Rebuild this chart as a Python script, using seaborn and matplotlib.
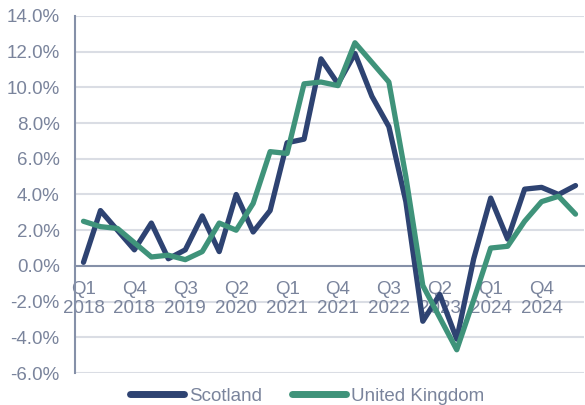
import matplotlib
matplotlib.use("Agg")
import matplotlib.pyplot as plt
import seaborn as sns
import pandas as pd
import numpy as np

quarters = [f"Q{q} {y}" for y in range(2018, 2026) for q in range(1, 5)][:30]
scotland = [0.2, 3.1, 2.0, 0.9, 2.4, 0.4, 0.9, 2.8, 0.8, 4.0,
            1.9, 3.1, 6.9, 7.1, 11.6, 10.2, 11.9, 9.5, 7.8, 3.6,
            -3.1, -1.6, -4.1, 0.4, 3.8, 1.5, 4.3, 4.4, 4.0, 4.5]
uk = [2.5, 2.2, 2.1, 1.3, 0.5, 0.6, 0.35, 0.8, 2.4, 2.0,
      3.5, 6.4, 6.3, 10.2, 10.3, 10.1, 12.5, 11.4, 10.3, 5.0,
      -1.1, -2.9, -4.7, -1.9, 1.0, 1.1, 2.5, 3.6, 3.9, 2.9]
series_names = ["Scotland", "United Kingdom"]
colors = ["#2E4372", "#3F937A"]
yticks = [-6, -4, -2, 0, 2, 4, 6, 8, 10, 12, 14]

text_color = "#7A849C"
grid_color = "#DADDE4"
spine_color = "#8590A8"
fs = 13.5

df = pd.DataFrame({
    "idx": list(range(len(quarters))) * 2,
    "value": scotland + uk,
    "series": [series_names[0]] * len(scotland) + [series_names[1]] * len(uk),
})

sns.set_style("white")
plt.rcParams["font.family"] = ["Liberation Sans", "DejaVu Sans"]

fig, ax = plt.subplots(figsize=(5.85, 4.05), dpi=100)
fig.subplots_adjust(left=75/585, right=584/585, top=1-16/405, bottom=1-373/405)

for yv in yticks:
    if yv != 0:
        ax.axhline(yv, color=grid_color, lw=1.5, zorder=0)

sns.lineplot(data=df, x="idx", y="value", hue="series", hue_order=series_names,
             palette=colors, lw=3.8, ax=ax, legend=False, zorder=3)

ax.set_xlim(-0.5, len(quarters) - 0.5)
ax.set_ylim(-6, 14)
ax.set_yticks(yticks)
ax.set_yticklabels([f"{v:.1f}%" for v in yticks])

tick_idx = list(range(0, len(quarters), 3))
ax.set_xticks(tick_idx)
ax.set_xticklabels([quarters[i].replace(" ", "\n") for i in tick_idx])

for s in ["top", "right"]:
    ax.spines[s].set_visible(False)
ax.spines["bottom"].set_position(("data", 0))
ax.spines["bottom"].set_color(spine_color)
ax.spines["bottom"].set_linewidth(1.5)
ax.spines["bottom"].set_zorder(1)
ax.spines["left"].set_color(spine_color)
ax.spines["left"].set_linewidth(1.5)

ax.tick_params(axis="both", length=0, labelsize=fs, colors=text_color)
ax.tick_params(axis="x", pad=11)
ax.tick_params(axis="y", pad=11)
for lab in ax.get_xticklabels():
    lab.set_linespacing(1.15)
ax.set_xlabel("")
ax.set_ylabel("")

handles = [plt.Line2D([0], [0], color=c, lw=5) for c in colors]
fig.legend(handles, series_names, loc="center", bbox_to_anchor=(0.525, 0.022),
           ncol=2, frameon=False, fontsize=fs, labelcolor=text_color,
           handlelength=2.9, handletextpad=0.27, columnspacing=1.55)

fig.savefig("out.png", dpi=100)
